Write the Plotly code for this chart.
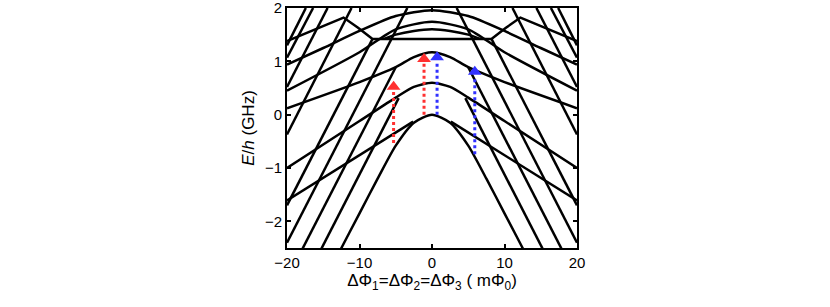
import plotly.graph_objects as go

# ---- energy levels E/h (GHz) vs flux detuning (mPhi0) ----
ground_x = [-20, -12.5, -10, -7.5, -5, -2.5, 0, 2.5, 5, 7.5, 10, 12.5, 20]
ground_y = [-4.45, -2.5, -1.85, -1.2, -0.58, -0.15, 0.0, -0.15, -0.58, -1.2, -1.85, -2.5, -4.45]

cap06_x = [-20, -10, -5, -2.5, 0, 2.5, 5, 10, 20]
cap06_y = [-1.0, -0.12, 0.32, 0.52, 0.6, 0.52, 0.32, -0.12, -1.0]

cap117_x = [-20, -10, -5, -2.5, 0, 2.5, 5, 10, 20]
cap117_y = [0.12, 0.61, 0.89, 1.08, 1.17, 1.08, 0.89, 0.61, 0.12]

cap16_x = [-6.6, -5, -2.5, 0, 2.5, 5, 6.6]
cap16_y = [1.42, 1.5, 1.57, 1.6, 1.57, 1.5, 1.42]

cap174_x = [-20, -10, -5, 0, 5, 10, 20]
cap174_y = [0.45, 1.17, 1.6, 1.74, 1.6, 1.17, 0.45]

cap196_x = [-20, -15, -10, -5, 0, 5, 10, 15, 20]
cap196_y = [0.94, 1.25, 1.57, 1.85, 1.96, 1.85, 1.57, 1.25, 0.94]

flat_x = [-20, -12.2, -10.2, -8.2, 8.2, 10.2, 12.2, 20]
flat_y = [1.38, 1.82, 1.63, 1.42, 1.42, 1.63, 1.82, 1.38]

# straight (persistent-current) branches, left and right halves
steep1_x = [-20, -4.6, None, 4.6, 20]
steep1_y = [-3.77, 0.31, None, 0.31, -3.77]
steep2_x = [-20, -5, None, 5, 20]
steep2_y = [-3.08, 0.89, None, 0.89, -3.08]
steep3_x = [-20, -3.4, None, 3.4, 20]
steep3_y = [-2.4, 2.0, None, 2.0, -2.4]
steep4_x = [-20, -8.2, None, 8.2, 20]
steep4_y = [-1.7, 1.42, None, 1.42, -1.7]
steep5_x = [-20, -11.1, None, 11.1, 20]
steep5_y = [-0.37, 2.0, None, 2.0, -0.37]
steep6_x = [-20, -14.4, None, 14.4, 20]
steep6_y = [0.52, 2.0, None, 2.0, 0.52]
steep7_x = [-20, -16.4, None, 16.4, 20]
steep7_y = [1.07, 2.0, None, 2.0, 1.07]
steep8_x = [-20, -17.4, None, 17.4, 20]
steep8_y = [1.3, 2.0, None, 2.0, 1.3]
shallow1_x = [-20, -2.6, None, 2.6, 20]
shallow1_y = [-1.61, -0.13, None, -0.13, -1.61]

smooth_levels = [(ground_x, ground_y), (cap06_x, cap06_y), (cap117_x, cap117_y),
                 (cap16_x, cap16_y), (cap174_x, cap174_y), (cap196_x, cap196_y)]
straight_levels = [(flat_x, flat_y), (steep1_x, steep1_y), (steep2_x, steep2_y),
                   (steep3_x, steep3_y), (steep4_x, steep4_y), (steep5_x, steep5_y),
                   (steep6_x, steep6_y), (steep7_x, steep7_y), (steep8_x, steep8_y),
                   (shallow1_x, shallow1_y)]

# transition arrows: x position, start energy, head-tip energy
arrow_x = [-5.3, -1.1, 0.7, 5.9]
arrow_y0 = [-0.53, 0.0, 0.0, -0.74]
arrow_y1 = [0.61, 1.13, 1.16, 0.89]
arrow_color = ["#ff3030", "#ff3030", "#3030ff", "#3030ff"]

fig = go.Figure()
for xs, ys in smooth_levels:
    fig.add_trace(go.Scatter(x=xs, y=ys, mode="lines",
                             line=dict(color="black", width=2.5, shape="spline", smoothing=0.7),
                             showlegend=False, hoverinfo="skip"))
for xs, ys in straight_levels:
    fig.add_trace(go.Scatter(x=xs, y=ys, mode="lines", connectgaps=False,
                             line=dict(color="black", width=2.5),
                             showlegend=False, hoverinfo="skip"))

for ax, y0, y1, c in zip(arrow_x, arrow_y0, arrow_y1, arrow_color):
    head_len = 0.17
    fig.add_trace(go.Scatter(x=[ax, ax], y=[y0, y1 - head_len], mode="lines",
                             line=dict(color=c, width=3, dash="dot"), showlegend=False, hoverinfo="skip"))
    fig.add_trace(go.Scatter(x=[ax], y=[y1 - head_len / 2], mode="markers",
                             marker=dict(symbol="triangle-up", size=12, color=c), showlegend=False, hoverinfo="skip"))

axis_common = dict(showgrid=False, zeroline=False, showline=True, linecolor="black", linewidth=2,
                   mirror="ticks", ticks="inside", ticklen=4, tickcolor="black", tickwidth=1.5,
                   ticklabeloverflow="allow", automargin=False,
                   tickfont=dict(family="Liberation Sans, Arial", size=15, color="black"))

fig.update_layout(
    width=830, height=307,
    margin=dict(l=287, r=253, t=8, b=59, autoexpand=False),
    paper_bgcolor="white", plot_bgcolor="white",
    xaxis=dict(range=[-20, 20], tickvals=[-20, -10, 0, 10, 20], **axis_common,
               title=dict(text="ΔΦ<sub>1</sub>=ΔΦ<sub>2</sub>=ΔΦ<sub>3</sub> ( mΦ<sub>0</sub>)", standoff=2,
                          font=dict(family="Liberation Sans, Arial", size=17, color="black"))),
    yaxis=dict(range=[-2.5, 2], tickvals=[-2, -1, 0, 1, 2], **axis_common,
               title=dict(text="<i>E</i>/<i>h</i> (GHz)", standoff=6,
                          font=dict(family="Liberation Sans, Arial", size=17, color="black"))),
)

fig.write_html("out.html", config={"displayModeBar": False},
               post_script="document.body.style.margin='0';")
